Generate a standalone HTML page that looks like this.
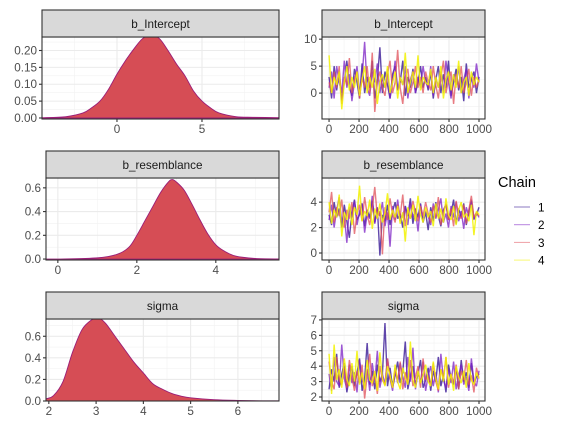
<!DOCTYPE html>
<html><head><meta charset="utf-8"><style>
body{margin:0;background:#fff;}
svg{display:block;font-family:"Liberation Sans",Arial,sans-serif;}
</style></head><body>
<svg id="chart" width="576" height="432" viewBox="0 0 576 432" xmlns="http://www.w3.org/2000/svg"></svg>
<script>
// ---- density data ----
const icptX = [-4.4,-3,-2,-1.5,-1,-0.5,0,0.5,1,1.5,2,2.5,3,3.5,4,4.5,5,5.5,6,7,8,9.6];
const icptD = [0.001,0.004,0.015,0.03,0.05,0.085,0.13,0.17,0.205,0.235,0.245,0.235,0.2,0.16,0.125,0.08,0.05,0.03,0.015,0.004,0.002,0.001];
const resX = [-0.3,0,1,1.5,1.8,2.0,2.2,2.4,2.6,2.8,2.9,3.0,3.2,3.4,3.6,3.8,4.0,4.2,4.5,5,5.6];
const resD = [0,0,0.01,0.04,0.1,0.2,0.32,0.44,0.56,0.65,0.67,0.65,0.58,0.46,0.33,0.21,0.12,0.07,0.025,0.005,0.001];
const sigX = [1.94,2.1,2.3,2.5,2.7,2.9,3.05,3.2,3.4,3.6,3.8,4.0,4.2,4.4,4.6,4.8,5.0,5.5,6.0,6.5,6.9];
const sigD = [0.02,0.05,0.18,0.45,0.66,0.75,0.77,0.72,0.6,0.48,0.36,0.26,0.16,0.11,0.07,0.045,0.03,0.012,0.005,0.002,0.001];
// ---- trace data (thinned draws per chain) ----
const icptC1 = [3,-1,5,0.5,4,-1.5,2,6,1,-0.5,4.5,2,-1,5.5,0,3,1,6,-1,2.5,8.5,0,4,1.5,-1,3.5,5,0.5,2,6,-0.5,3,1,4.5,0,2,5,1,3,0.5,4,-1,2.5,5,0,3.5,1,6,-0.5,2,4.5,0.5,3,-1.5,5.5,1,2.5,4,0,3];
const icptC2 = [1,4,-1,5,2,0,6,1,3.5,-1.5,2,5,0,3,9.5,1,-0.5,4,2,5.5,0,3,1,4.5,-1,2,6,0.5,3,1.5,5,-1,2.5,4,0,3,1,5,2,1,5,-0.5,3,1,4,0,6,2,-1,3.5,1.5,5,0,2.5,4.5,-1,3,1,5.5,2];
const icptC3 = [2,0,4,1,5,-2,3,1.5,6.5,0,2.5,4,-1,3,1,5,0,7.5,-3.5,2,4,1,-0.5,3.5,6,0,2,8,1,-2,3,4.5,0,2,5,1,3,0,4,2,0.5,5,1.5,-1,3,6,0,2.5,4,-2,3.5,1,5,0,2,4.5,-0.5,3,1,2.5];
const icptC4 = [7,0,3,1.5,4,-3,2,5,0.5,3,1,4,-0.5,2.5,5,0,3,1,4.5,-2,2,3.5,1,5,0,2,4,-1,3,1.5,7.5,0,2,4,1,7,0.5,3,2,1.5,4.5,0,3,1,5,-1,2.5,4,0.5,3.5,1,6,0,2,3,-0.5,4,1.5,3,2];
const resC1 = [3,2.2,4,2.8,3.5,2,3.8,2.5,1.2,3.2,4.2,2.6,3,3.9,2.1,3.4,2.8,4.1,2.4,3.6,-0.2,3,2.5,3.8,2.2,3.3,4,2.7,3.1,2,3.7,2.9,4.3,2.3,3.5,2.8,3.9,2.4,3.2,1.8,3.6,2.5,4,2.9,2.1,3.4,3.8,2.6,3.1,4.2,2.3,3.5,2.8,3.9,2.2,3.3,4.1,2.7,3,3.6];
const resC2 = [2.6,3.8,2,3.4,4.4,2.4,3,0.8,3.6,2.8,4.1,2.2,3.3,3.9,1.6,3.1,2.7,4.5,2.3,3.5,2.9,4,2.1,3.2,0.5,3.7,2.6,4.2,2.5,3,3.6,2.2,4,2.8,3.4,1.7,3.8,2.6,3.3,2.9,2.2,3.9,2.7,3.4,4.3,2.4,3.1,2,3.7,2.8,4,2.5,3.3,1.9,3.6,2.9,4.2,2.6,3.2,2.8];
const resC3 = [3.2,4.8,2.4,3.6,2.9,4.2,2,3.4,2.7,4,1.5,3.1,3.8,2.5,4.4,3,2.2,3.5,5.2,2.8,3.3,-0.1,3.6,2.6,4.3,3,2.4,3.8,2.9,4.6,2.1,3.4,2.7,4.1,3.2,2.5,3.7,2.9,4,3.1,2.4,3.7,2.8,4.4,2.2,3.3,3.9,2.6,3.5,2.1,4.1,3,2.7,3.8,2.3,3.4,4.5,2.8,3.2,2.9];
const resC4 = [4,2.3,3.4,2.8,4.6,1.3,3.2,2.6,3.9,2.2,3.6,3,5.3,2.5,3.3,2.9,4.2,1.9,3.5,2.7,3.9,2.4,3.1,4.7,2.6,3.4,2.8,3.7,2.3,3.2,0.9,3.6,2.7,3.8,2.5,4.5,3,2.4,3.6,2.8,3.3,2.1,3.9,2.7,3.5,2.4,4.3,3,2.6,3.7,2.2,3.4,4,2.8,3.1,2.5,3.8,1.4,3.3,3];
const sigC1 = [2.5,3.8,3,4.8,2.6,3.5,4.2,2.3,3.3,4,2.7,3.6,4.5,2.4,3.2,5.5,2.8,3.7,2.5,4.1,3,3.5,6.8,2.7,3.9,2.6,3.4,4.3,2.9,3.6,5.6,2.5,3.3,4,2.8,3.5,4.4,2.6,3.1,3.9,2.4,3.7,3,4.6,2.7,3.4,2.3,4.1,3.2,2.8,3.9,2.5,4.4,3,3.6,2.6,4.2,2.9,3.3,3.5];
const sigC2 = [3.5,2.4,4.6,3,2.7,5.4,3.2,2.5,4.1,2.9,3.6,2.3,4.4,3.1,2.7,3.8,2.4,4.2,3,5,2.6,3.5,2.8,4.5,3.2,2.4,3.9,2.9,4.2,3.3,2.6,4.6,3,5.2,2.5,3.6,2.9,4.3,2.4,3.4,4,2.7,3.6,2.3,4.8,3.1,2.6,3.8,2.9,4.3,2.5,3.4,4.1,2.8,3.3,2.4,4.5,3,2.7,3.7];
const sigC3 = [4.3,3,2.5,4.6,3.1,2.8,3.9,2.6,4.4,3.3,2.4,3.7,2.9,4.1,1.9,3.4,4.8,2.7,3.5,2.2,4,3.1,2.8,4.5,3.2,2.6,3.8,3,4.3,2.5,3.6,2.9,4.4,2.7,3.3,4,2.6,4.5,3.1,3.4,2.7,4.2,3,2.4,3.8,3.2,4.6,2.6,3.5,2.9,4.1,2.5,3.7,3.1,4.4,2.8,3.4,2.3,3.9,3.2];
const sigC4 = [4.8,2.2,5.4,3.1,3.8,2.6,4.5,3.2,2.7,4.2,3,5,2.8,3.6,2.5,4.4,3.1,2.9,3.7,2.4,4.9,3.2,2.7,4,3.4,2.6,4.1,3,2.5,3.9,3.3,2.8,5.6,3.1,2.6,3.7,2.9,3.4,4.1,3,2.7,4.3,3.2,2.5,3.8,3,4.6,2.8,3.5,2.4,4,3.3,2.9,3.7,2.6,4.2,3.1,2.8,3.6,3.2];
const chainLabels = ["1","2","3","4"];
const chainColors = ["#2b0a8f","#7b1fc4","#e0505a","#f2f200"];
const traceIter = 1000;

const NS="http://www.w3.org/2000/svg";
const svg=document.getElementById('chart');
function mk(tag,attrs,parent){const e=document.createElementNS(NS,tag);for(const k in attrs)e.setAttribute(k,attrs[k]);(parent||svg).appendChild(e);return e;}
function txt(s,x,y,anchor,size,fill,parent){const t=mk('text',{x:x,y:y,'text-anchor':anchor,'font-size':size,fill:fill},parent);t.textContent=s;return t;}

function panel(p){
  const g=mk('g',{});
  
  
  const sx=v=>p.x0+(v-p.xlim[0])/(p.xlim[1]-p.xlim[0])*(p.x1-p.x0);
  const sy=v=>p.y1-(v-p.ylim[0])/(p.ylim[1]-p.ylim[0])*(p.y1-p.y0);
  mk('rect',{x:p.x0,y:p.y0,width:p.x1-p.x0,height:p.y1-p.y0,fill:'#fff'},g);
  p.xminor.forEach(v=>mk('line',{x1:sx(v),x2:sx(v),y1:p.y0,y2:p.y1,stroke:'#f2f2f2','stroke-width':0.6},g));
  p.yminor.forEach(v=>mk('line',{x1:p.x0,x2:p.x1,y1:sy(v),y2:sy(v),stroke:'#f2f2f2','stroke-width':0.6},g));
  p.xbreaks.forEach(v=>mk('line',{x1:sx(v),x2:sx(v),y1:p.y0,y2:p.y1,stroke:'#ebebeb','stroke-width':1.1},g));
  p.ybreaks.forEach(v=>mk('line',{x1:p.x0,x2:p.x1,y1:sy(v),y2:sy(v),stroke:'#ebebeb','stroke-width':1.1},g));
  const clipId='c'+p.name;
  const cp=mk('clipPath',{id:clipId},g);
  mk('rect',{x:p.x0,y:p.y0,width:p.x1-p.x0,height:p.y1-p.y0},cp);
  const data=mk('g',{'clip-path':'url(#'+clipId+')'},g);
  p.draw(data,sx,sy);
  mk('rect',{x:p.x0,y:p.y0,width:p.x1-p.x0,height:p.y1-p.y0,fill:'none',stroke:'#333','stroke-width':1.1},g);
  const st=mk('rect',{x:p.x0,y:p.y0-27,width:p.x1-p.x0,height:27,fill:'#d9d9d9',stroke:'#333','stroke-width':1.1},g);
  
  
  txt(p.title,(p.x0+p.x1)/2,p.y0-9,'middle',11.7,'#1a1a1a',g);
  p.xbreaks.forEach((v,i)=>{mk('line',{x1:sx(v),x2:sx(v),y1:p.y1,y2:p.y1+3,stroke:'#333','stroke-width':1.1},g);
    txt(p.xlabels[i],sx(v),p.y1+14,'middle',11.7,'#4d4d4d',g);});
  p.ybreaks.forEach((v,i)=>{mk('line',{x1:p.x0-3,x2:p.x0,y1:sy(v),y2:sy(v),stroke:'#333','stroke-width':1.1},g);
    txt(p.ylabels[i],p.x0-5,sy(v)+4,'end',11.7,'#4d4d4d',g);});
}
function smoothPath(pts){
  let d='';
  for(let i=0;i<pts.length-1;i++){
    const p0=pts[Math.max(0,i-1)],p1=pts[i],p2=pts[i+1],p3=pts[Math.min(pts.length-1,i+2)];
    const c1=[p1[0]+(p2[0]-p0[0])/6,p1[1]+(p2[1]-p0[1])/6];
    const c2=[p2[0]-(p3[0]-p1[0])/6,p2[1]-(p3[1]-p1[1])/6];
    d+=' C'+c1[0]+','+c1[1]+' '+c2[0]+','+c2[1]+' '+p2[0]+','+p2[1];
  }
  return d;
}
function dens(xs,ds){return function(g,sx,sy){
  const pts=xs.map((x,i)=>[sx(x),sy(ds[i])]);
  let d='M'+sx(xs[0])+','+sy(0)+' L'+pts[0][0]+','+pts[0][1]+smoothPath(pts)+' L'+sx(xs[xs.length-1])+','+sy(0)+' Z';
  const a=mk('path',{d:d,fill:'#d64d55',stroke:'#9b1d78','stroke-width':0.9},g);
  
  
};}
function trace(chains){return function(g,sx,sy){
  chains.forEach((c,ci)=>{
    const n=c.length;
    const pts=c.map((v,i)=>sx(i*traceIter/(n-1))+','+sy(v)).join(' ');
    const l=mk('polyline',{points:pts,fill:'none',stroke:chainColors[ci],'stroke-width':1.4,'stroke-opacity':ci==3?0.85:0.75,'stroke-linejoin':'bevel'},g);
    
    
  });
};}
const tX=[0,200,400,600,800,1000], tXm=[100,300,500,700,900];
panel({name:'density-b-intercept',title:'b_Intercept',x0:42,x1:279,y0:37,y1:119,xlim:[-4.41,9.53],ylim:[-0.003,0.24],
  xbreaks:[0,5],xlabels:['0','5'],xminor:[-2.5,2.5,7.5],ybreaks:[0,0.05,0.1,0.15,0.2],ylabels:['0.00','0.05','0.10','0.15','0.20'],yminor:[0.025,0.075,0.125,0.175,0.225],draw:dens(icptX,icptD)});
panel({name:'density-b-resemblance',title:'b_resemblance',x0:46,x1:279,y0:178,y1:260,xlim:[-0.3,5.6],ylim:[-0.008,0.683],
  xbreaks:[0,2,4],xlabels:['0','2','4'],xminor:[1,3,5],ybreaks:[0,0.2,0.4,0.6],ylabels:['0.0','0.2','0.4','0.6'],yminor:[0.1,0.3,0.5],draw:dens(resX,resD)});
panel({name:'density-sigma',title:'sigma',x0:46,x1:279,y0:319,y1:401,xlim:[1.94,6.87],ylim:[0,0.76],
  xbreaks:[2,3,4,5,6],xlabels:['2','3','4','5','6'],xminor:[2.5,3.5,4.5,5.5,6.5],ybreaks:[0,0.2,0.4,0.6],ylabels:['0.0','0.2','0.4','0.6'],yminor:[0.1,0.3,0.5,0.7],draw:dens(sigX,sigD)});
panel({name:'trace-b-intercept',title:'b_Intercept',x0:322,x1:485,y0:37,y1:119,xlim:[-47,1040],ylim:[-4.8,10.4],
  xbreaks:tX,xlabels:['0','200','400','600','800','1000'],xminor:tXm,ybreaks:[0,5,10],ylabels:['0','5','10'],yminor:[-2.5,2.5,7.5],draw:trace([icptC1,icptC2,icptC3,icptC4])});
panel({name:'trace-b-resemblance',title:'b_resemblance',x0:322,x1:485,y0:178,y1:260,xlim:[-47,1040],ylim:[-0.55,5.9],
  xbreaks:tX,xlabels:['0','200','400','600','800','1000'],xminor:tXm,ybreaks:[0,2,4],ylabels:['0','2','4'],yminor:[1,3,5],draw:trace([resC1,resC2,resC3,resC4])});
panel({name:'trace-sigma',title:'sigma',x0:322,x1:485,y0:319,y1:401,xlim:[-47,1040],ylim:[1.74,7.06],
  xbreaks:tX,xlabels:['0','200','400','600','800','1000'],xminor:tXm,ybreaks:[2,3,4,5,6,7],ylabels:['2','3','4','5','6','7'],yminor:[2.5,3.5,4.5,5.5,6.5],draw:trace([sigC1,sigC2,sigC3,sigC4])});
const lg=mk('g',{});


txt('Chain',498,187,'start',14.5,'#000',lg);
chainLabels.forEach((c,i)=>{
  const y=207+i*17.7;
  const e=mk('g',{},lg);
  
  
  mk('line',{x1:514,x2:530,y1:y,y2:y,stroke:chainColors[i],'stroke-width':1,'stroke-opacity':0.55},e);
  txt(c,538,y+4.5,'start',11.7,'#000',e);
});
</script>
</body></html>
